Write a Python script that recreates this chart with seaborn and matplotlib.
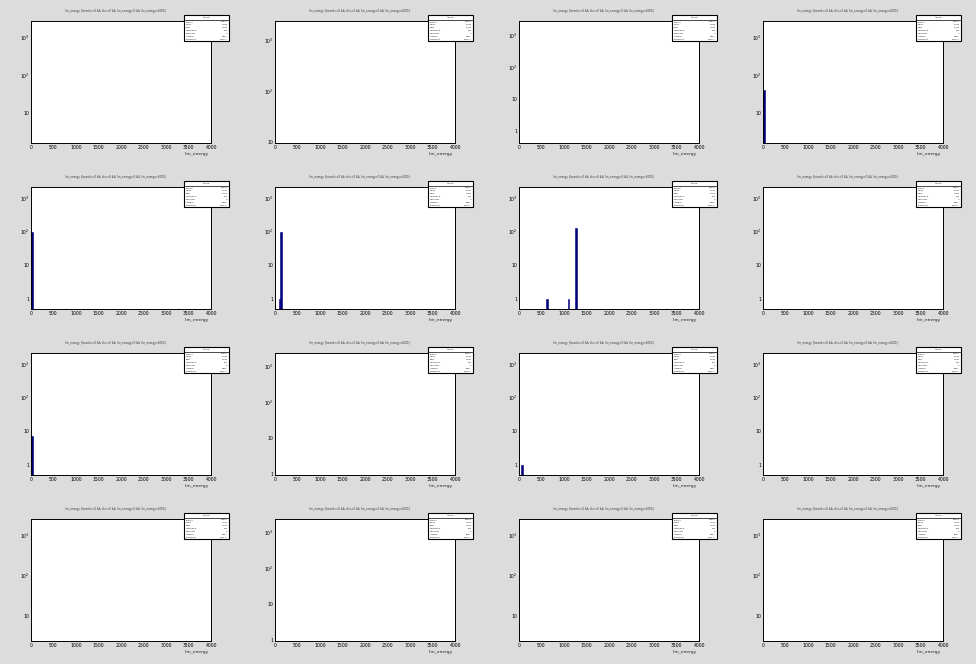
import numpy as np
import pandas as pd
import matplotlib
matplotlib.use("Agg")
import matplotlib.pyplot as plt
import seaborn as sns
from matplotlib.patches import Rectangle
from matplotlib.lines import Line2D
from matplotlib.ticker import FixedLocator, NullFormatter, MultipleLocator

sns.set_style("white")
plt.rcParams['font.family'] = ['DejaVu Sans']

# 4x4 canvas of lim_energy histograms (ROOT style)
bin_width = 40
x_ticks = [0, 500, 1000, 1500, 2000, 2500, 3000, 3500, 4000]
x_labels = ["0", "500", "1000", "1500", "2000", "2500", "3000", "3500", "4000"]

# bar positions (bin centres) and counts per pad
pad_x = [[], [], [], [20], [20], [100, 140], [620, 1100, 1260], [],
         [20], [], [60], [], [], [], [], []]
pad_counts = [[], [], [], [40], [100], [1, 100], [1, 1, 130], [],
              [7], [], [1], [], [], [], [], []]

# y ranges of each pad (log axis)
pad_ymin = [1.6, 9.5, 0.42, 1.6, 0.5, 0.5, 0.5, 0.5,
            0.5, 0.95, 0.5, 0.5, 2.5, 0.95, 2.5, 2.5]
pad_ymax = [2600, 2350, 2750, 2600, 2100, 2100, 2100, 2100,
            2100, 2300, 2100, 2100, 2450, 2300, 2450, 2450]

pad_title = "lim_energy {board==0 && ch==0 && lim_energy>0 && lim_energy<4000}"
stat_names = ["Entries", "Mean", "RMS", "Underflow", "Overflow", "Integral", "Skewness"]
stat_values = ["10000", "1.032", "1.031", "153", "0", "9847", "1000.1"]

W, H = 976, 664
PW, PH = 244, 166
NAVY = "#00007f"

fig = plt.figure(figsize=(W / 100, H / 100), dpi=100)
fig.patch.set_facecolor("#dcdcdc")


def fx(px):
    return px / W


def fy(py):
    return 1 - py / H


for i in range(16):
    row, col = divmod(i, 4)
    ox, oy = col * PW, row * PH
    ax = fig.add_axes([fx(ox + 31), fy(oy + 143), fx(180), 122 / H])
    ax.set_facecolor("white")

    if pad_x[i]:
        df = pd.DataFrame({"lim_energy": pad_x[i], "n": pad_counts[i]})
        sns.histplot(data=df, x="lim_energy", weights="n",
                     binwidth=bin_width, binrange=(0, 4000),
                     ax=ax, color=NAVY, edgecolor=NAVY, alpha=1, linewidth=0.4)
    ax.set_yscale("log")
    ax.set_xlim(0, 4000)
    ax.set_ylim(pad_ymin[i], pad_ymax[i])
    ax.set_ylabel("")
    ax.set_xlabel("")

    ax.xaxis.set_major_locator(FixedLocator(x_ticks))
    ax.set_xticklabels(x_labels)
    ax.xaxis.set_minor_locator(MultipleLocator(100))
    yt = [t for t in [1, 10, 100, 1000] if pad_ymin[i] <= t <= pad_ymax[i]]
    ax.yaxis.set_major_locator(FixedLocator(yt))
    ax.set_yticklabels(["1" if t == 1 else "10" if t == 10 else
                        r"$10^{%d}$" % int(np.log10(t)) for t in yt])
    ax.yaxis.set_minor_formatter(NullFormatter())
    ax.tick_params(axis="both", which="major", direction="in", length=3.5,
                   width=0.6, labelsize=3.3, pad=1.2, colors="black")
    ax.tick_params(axis="y", which="major", length=4.5)
    ax.tick_params(axis="both", which="minor", direction="in", length=2,
                   width=0.5)
    ax.tick_params(top=False, right=False)
    for sp in ax.spines.values():
        sp.set_linewidth(0.7)
        sp.set_color("black")

    # x axis title, right aligned
    fig.text(fx(ox + 209), fy(oy + 153.5), "lim_energy", fontsize=3.2,
             ha="right", va="center")

    # pad title
    fig.text(fx(ox + 116), fy(oy + 11), pad_title, fontsize=1.9,
             ha="center", va="center", color="#333333")

    # stats box
    bx0, by0, bw, bh = ox + 184, oy + 15, 45, 26
    fig.patches.append(Rectangle((fx(bx0), fy(by0 + bh)), fx(bw), bh / H,
                                 transform=fig.transFigure, facecolor="white",
                                 edgecolor="black", linewidth=0.8, zorder=5))
    fig.lines.append(Line2D([fx(bx0), fx(bx0 + bw)], [fy(by0 + 4.5)] * 2,
                            transform=fig.transFigure, color="black",
                            linewidth=0.5, zorder=6))
    fig.text(fx(bx0 + bw / 2), fy(by0 + 2.3), "htemp", fontsize=1.6,
             ha="center", va="center", zorder=7)
    for k, (nm, val) in enumerate(zip(stat_names, stat_values)):
        yy = fy(by0 + 7 + k * 2.9)
        fig.text(fx(bx0 + 1.5), yy, nm, fontsize=1.6, ha="left",
                 va="center", zorder=7)
        fig.text(fx(bx0 + bw - 1.5), yy, val, fontsize=1.6, ha="right",
                 va="center", zorder=7)

fig.savefig("out.png", dpi=100, facecolor=fig.get_facecolor())
